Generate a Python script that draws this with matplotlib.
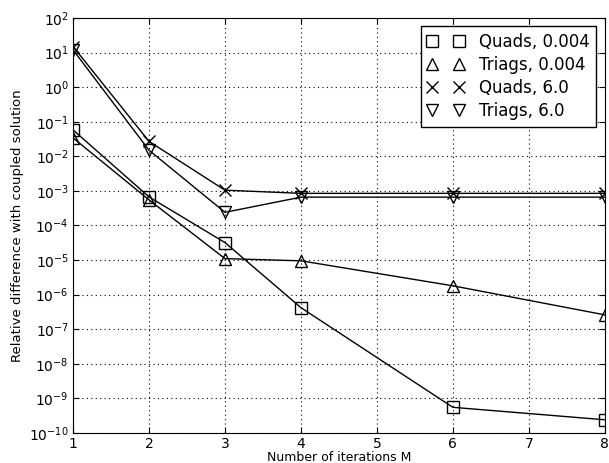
import matplotlib
matplotlib.use('Agg')
import matplotlib.pyplot as plt
from matplotlib.lines import Line2D

# iterations and relative differences
iters = [1, 2, 3, 4, 6, 8]
quads_small = [5.8e-2, 6.7e-4, 3.2e-5, 4.2e-7, 5.5e-10, 2.4e-10]
triags_small = [3.4e-2, 5.5e-4, 1.1e-5, 9.5e-6, 1.8e-6, 2.6e-7]
quads_large = [15.0, 2.7e-2, 1.05e-3, 8.5e-4, 8.5e-4, 8.5e-4]
triags_large = [12.0, 1.5e-2, 2.4e-4, 6.6e-4, 6.6e-4, 6.6e-4]
labels = ['Quads, 0.004', 'Triags, 0.004', 'Quads, 6.0', 'Triags, 6.0']
markers = ['s', '^', 'x', 'v']

fig = plt.figure(figsize=(6.09, 4.63), dpi=100)
ax = fig.add_axes([0.12, 0.065, 0.873, 0.896])

handles = []
for ys, lab, m in zip([quads_small, triags_small, quads_large, triags_large], labels, markers):
    ax.semilogy(iters, ys, color='black', marker=m, markersize=8, lw=1,
                markerfacecolor='none', markeredgecolor='black', mew=1)
    # legend shows markers only
    handles.append(Line2D([], [], linestyle='none', marker=m, markersize=8,
                          markerfacecolor='none', markeredgecolor='black', mew=1, label=lab))

ax.set_xlim(1, 8)
ax.set_ylim(1e-10, 1e2)
ax.set_yticks([10.0 ** k for k in range(-10, 3)])
ax.minorticks_off()
ax.grid(True, color='black', linestyle=(0, (1, 3)), linewidth=0.8)
ax.tick_params(direction='in', top=True, right=True, labelsize=10, length=4, pad=3)
ax.set_xlabel('Number of iterations M', fontsize=9, labelpad=0)
ax.set_ylabel('Relative difference with coupled solution', fontsize=9.5, labelpad=4)

leg = ax.legend(handles=handles, loc='upper right', numpoints=2, fontsize=12, fancybox=False,
                framealpha=1, edgecolor='black', handlelength=2.2, borderpad=0.4,
                labelspacing=0.3, handletextpad=0.9)
leg.get_frame().set_linewidth(1)

fig.savefig('out.png', dpi=100)
